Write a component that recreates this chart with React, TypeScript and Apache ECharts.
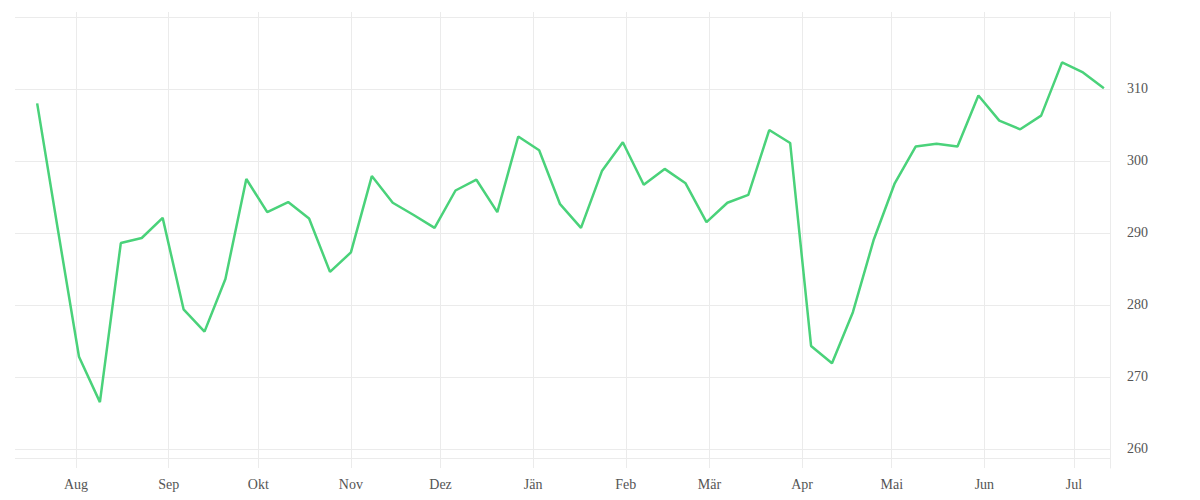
import { useEffect, useRef } from 'react';
import * as echarts from 'echarts';

const dates = [
  '2022-07-19', '2022-07-26', '2022-08-02', '2022-08-09', '2022-08-16', '2022-08-23', '2022-08-30',
  '2022-09-06', '2022-09-13', '2022-09-20', '2022-09-27', '2022-10-04', '2022-10-11', '2022-10-18',
  '2022-10-25', '2022-11-01', '2022-11-08', '2022-11-15', '2022-11-22', '2022-11-29', '2022-12-06',
  '2022-12-13', '2022-12-20', '2022-12-27', '2023-01-03', '2023-01-10', '2023-01-17', '2023-01-24',
  '2023-01-31', '2023-02-07', '2023-02-14', '2023-02-21', '2023-02-28', '2023-03-07', '2023-03-14',
  '2023-03-21', '2023-03-28', '2023-04-04', '2023-04-11', '2023-04-18', '2023-04-25', '2023-05-02',
  '2023-05-09', '2023-05-16', '2023-05-23', '2023-05-30', '2023-06-06', '2023-06-13', '2023-06-20',
  '2023-06-27', '2023-07-04', '2023-07-11',
];

const values = [
  308.0, 290.3, 272.8, 266.5, 288.6, 289.3, 292.1, 279.4, 276.3, 283.6, 297.5, 292.9, 294.3,
  292.0, 284.6, 287.3, 297.9, 294.2, 292.5, 290.7, 295.9, 297.4, 292.9, 303.4, 301.5, 294.0,
  290.7, 298.6, 302.6, 296.7, 298.9, 296.9, 291.5, 294.2, 295.3, 304.3, 302.5, 274.3, 271.9,
  279.0, 289.1, 296.9, 302.0, 302.4, 302.0, 309.1, 305.6, 304.4, 306.3, 313.7, 312.3, 310.1,
];

const monthTicks = [
  '2022-08-01', '2022-09-01', '2022-10-01', '2022-11-01', '2022-12-01', '2023-01-01',
  '2023-02-01', '2023-03-01', '2023-04-01', '2023-05-01', '2023-06-01', '2023-07-01',
];

const monthNames = ['Jän', 'Feb', 'Mär', 'Apr', 'Mai', 'Jun', 'Jul', 'Aug', 'Sep', 'Okt', 'Nov', 'Dez'];

const X_MIN = Date.parse('2022-07-11T14:00:00Z');
const X_MAX = Date.parse('2023-07-13T01:00:00Z');
const Y_MIN = 258.7;
const Y_MAX = 320;

const GRID_COLOR = '#ebebeb';
const TEXT_COLOR = '#555';
const FONT = '"Liberation Serif", serif';

export default function App() {
  const ref = useRef<HTMLDivElement>(null);

  useEffect(() => {
    document.body.style.margin = '0';
    if (!ref.current) return;
    const chart = echarts.init(ref.current, null, { renderer: 'svg' });
    const ticks = monthTicks.map((d) => Date.parse(d));

    chart.setOption({
      animation: false,
      backgroundColor: '#fff',
      grid: [
        { left: 15, right: 90, top: 17, bottom: 41.7 },
        { left: 15, right: 90, top: 12, bottom: 32 },
      ],
      xAxis: [
        { gridIndex: 0, type: 'value', min: X_MIN, max: X_MAX, show: false },
        {
          gridIndex: 1,
          type: 'value',
          min: X_MIN,
          max: X_MAX,
          axisLine: { show: false },
          axisTick: { show: false, customValues: ticks },
          axisLabel: {
            customValues: ticks,
            margin: 9,
            color: TEXT_COLOR,
            fontFamily: FONT,
            fontSize: 14,
            formatter: (v: number) => monthNames[new Date(v).getUTCMonth()],
          },
          splitLine: { show: true, lineStyle: { color: GRID_COLOR, width: 1 } },
        },
      ],
      yAxis: [
        {
          gridIndex: 0,
          type: 'value',
          position: 'right',
          min: Y_MIN,
          max: Y_MAX,
          axisLine: { show: false },
          axisTick: { show: false },
          axisLabel: {
            showMinLabel: false,
            showMaxLabel: false,
            margin: 17,
            padding: [4, 0, 0, 0],
            color: TEXT_COLOR,
            fontFamily: FONT,
            fontSize: 14,
          },
          splitLine: { show: true, lineStyle: { color: GRID_COLOR, width: 1 } },
        },
        {
          gridIndex: 1,
          type: 'value',
          position: 'right',
          min: 0,
          max: 1,
          axisLine: { show: true, lineStyle: { color: GRID_COLOR, width: 1 } },
          axisTick: { show: false },
          axisLabel: { show: false },
          splitLine: { show: false },
        },
      ],
      series: [
        {
          type: 'line',
          xAxisIndex: 0,
          yAxisIndex: 0,
          data: dates.map((d, i) => [Date.parse(d), values[i]]),
          symbol: 'none',
          lineStyle: { color: '#4ad27a', width: 2.5 },
        },
      ],
    });

    return () => chart.dispose();
  }, []);

  return <div ref={ref} style={{ width: 1200, height: 500 }} />;
}
